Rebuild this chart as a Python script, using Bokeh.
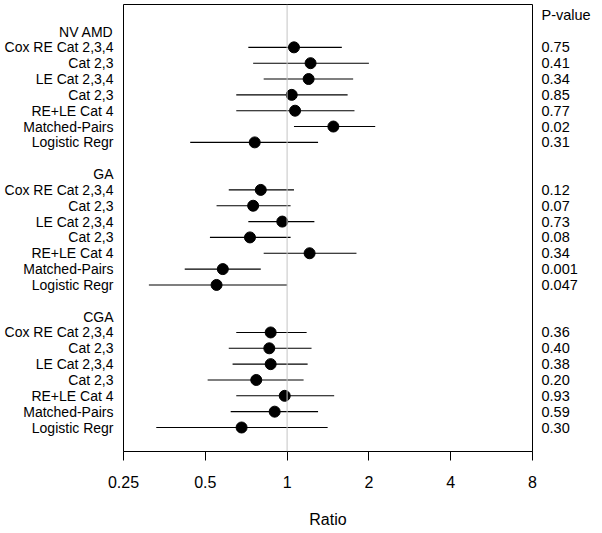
from bokeh.plotting import figure
from bokeh.models import ColumnDataSource, Span, Range1d, FixedTicker, LinearAxis
from bokeh.embed import file_html
from bokeh.resources import INLINE

# ---- data ----
groups = ["NV AMD", "GA", "CGA"]
methods = ["Cox RE Cat 2,3,4", "Cat 2,3", "LE Cat 2,3,4", "Cat 2,3",
           "RE+LE Cat 4", "Matched-Pairs", "Logistic Regr"]

nv_est = [1.06, 1.22, 1.20, 1.04, 1.07, 1.48, 0.76]
nv_lo = [0.72, 0.75, 0.82, 0.65, 0.65, 1.06, 0.44]
nv_hi = [1.59, 2.00, 1.75, 1.67, 1.77, 2.11, 1.30]
nv_p = ["0.75", "0.41", "0.34", "0.85", "0.77", "0.02", "0.31"]

ga_est = [0.80, 0.75, 0.96, 0.73, 1.21, 0.58, 0.55]
ga_lo = [0.61, 0.55, 0.72, 0.52, 0.82, 0.42, 0.31]
ga_hi = [1.06, 1.03, 1.26, 1.03, 1.80, 0.80, 1.00]
ga_p = ["0.12", "0.07", "0.73", "0.08", "0.34", "0.001", "0.047"]

cga_est = [0.87, 0.86, 0.87, 0.77, 0.98, 0.90, 0.68]
cga_lo = [0.65, 0.61, 0.63, 0.51, 0.65, 0.62, 0.33]
cga_hi = [1.18, 1.23, 1.19, 1.15, 1.49, 1.30, 1.41]
cga_p = ["0.36", "0.40", "0.38", "0.20", "0.93", "0.59", "0.30"]

tick_values = [0.25, 0.5, 1, 2, 4, 8]
tick_labels = ["0.25", "0.5", "1", "2", "4", "8"]
x_title = "Ratio"
p_title = "P-value"

# ---- build table ----
FONT = "Liberation Sans"
ests = [nv_est, ga_est, cga_est]
los = [nv_lo, ga_lo, cga_lo]
his = [nv_hi, ga_hi, cga_hi]
pvs = [nv_p, ga_p, cga_p]

row_y, est, lo, hi = [], [], [], []
left_labels = {}
right_labels = {}
for g in range(len(groups)):
    base = g * (len(methods) + 2)
    left_labels[base] = groups[g]
    for i in range(len(methods)):
        y = base + 1 + i
        row_y.append(y)
        est.append(ests[g][i]); lo.append(los[g][i]); hi.append(his[g][i])
        left_labels[y] = methods[i]
        right_labels[y] = pvs[g][i]
P_HEAD_ROW = -1.07
right_labels[P_HEAD_ROW] = p_title

xmin, xmax = tick_values[0], tick_values[-1]
src = ColumnDataSource(dict(y=row_y, est=est, lo=lo, hi=hi))

p = figure(width=600, height=533, x_axis_type="log",
           x_range=Range1d(xmin, xmax), y_range=Range1d(26.515, -1.705),
           output_backend="svg", toolbar_location=None,
           min_border_left=123, min_border_right=68,
           min_border_top=4, min_border_bottom=82,
           y_axis_location="left")
p.xgrid.visible = False
p.ygrid.visible = False
p.outline_line_color = "black"
p.outline_line_width = 1
p.background_fill_color = "white"
p.border_fill_color = "white"

p.add_layout(Span(location=1, dimension="height", line_color="#c4c4c4", line_width=1))

p.segment(x0="lo", y0="y", x1="hi", y1="y", source=src, line_color="black", line_width=1.1)
p.scatter(x="est", y="y", source=src, size=11, marker="circle",
          fill_color="black", line_color="black")

# left: row and group labels as y-axis tick labels
ly = p.yaxis[0]
ly.ticker = FixedTicker(ticks=sorted(left_labels.keys()), minor_ticks=[])
ly.major_label_overrides = left_labels
ly.axis_line_color = None
ly.major_tick_line_color = None
ly.minor_tick_line_color = None
ly.major_tick_out = 0
ly.major_tick_in = 0
ly.major_label_standoff = 10
ly.axis_label_standoff = 0
ly.major_label_text_font = FONT
ly.major_label_text_font_size = "14px"
ly.major_label_text_color = "black"

# right: p-values as tick labels of a right axis
ry = LinearAxis(ticker=FixedTicker(ticks=sorted(right_labels.keys()), minor_ticks=[]),
                major_label_overrides=right_labels)
ry.axis_line_color = None
ry.major_tick_line_color = None
ry.minor_tick_line_color = None
ry.major_tick_out = 0
ry.major_tick_in = 0
ry.major_label_standoff = 9
ry.axis_label_standoff = 0
ry.major_label_text_font = FONT
ry.major_label_text_font_size = "14.5px"
ry.major_label_text_color = "black"
p.add_layout(ry, "right")

ax = p.xaxis[0]
ax.ticker = FixedTicker(ticks=tick_values, minor_ticks=[])
ax.major_label_overrides = {v: t for v, t in zip(tick_values, tick_labels)}
ax.major_tick_out = 9
ax.major_tick_in = 0
ax.minor_tick_line_color = None
ax.axis_line_color = "black"
ax.major_tick_line_color = "black"
ax.major_label_text_font = FONT
ax.major_label_text_font_size = "16px"
ax.major_label_text_color = "black"
ax.major_label_standoff = 15
ax.axis_label = x_title
ax.axis_label_text_font = FONT
ax.axis_label_text_font_size = "16px"
ax.axis_label_text_font_style = "normal"
ax.axis_label_text_color = "black"
ax.axis_label_standoff = 20

open("out.html", "w").write(file_html(p, INLINE))
